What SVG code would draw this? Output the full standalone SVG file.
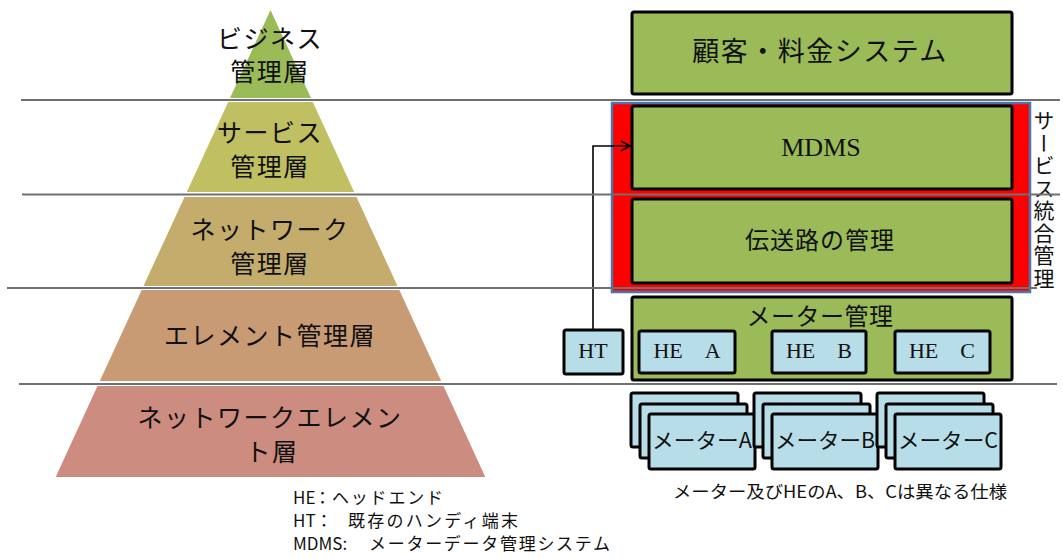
<svg xmlns="http://www.w3.org/2000/svg" width="1063" height="559" viewBox="0 0 1063 559">
<style>
.jp{font-family:"Noto Sans CJK JP","Noto Sans CJK SC",sans-serif;fill:#111}
.py{font-size:25px;text-anchor:middle;letter-spacing:1.5px}
.sf{font-family:"Liberation Serif","Noto Sans CJK JP",serif;fill:#111;text-anchor:middle}
.gbox{fill:#9bbb59;stroke:#000;stroke-width:3}
.bbox{fill:#b7dee8;stroke:#000;stroke-width:3}
.sep{stroke:#707070;stroke-width:2;fill:none}
.leg{font-size:17px}
.mt{font-size:21px;text-anchor:middle}
</style>
<defs>
<marker id="arr" markerWidth="12" markerHeight="12" refX="10" refY="6" orient="auto" markerUnits="userSpaceOnUse">
<path d="M1,1 L10,6 L1,11" fill="none" stroke="#000" stroke-width="1.6"/>
</marker>
</defs>
<rect width="1063" height="559" fill="#fff"/>

<g id="pyramid">
<g id="layer-business"><polygon points="270.5,10 311,98 230,98" fill="#9bbb59"/>
<text class="jp py" x="270" y="48">ビジネス</text><text class="jp py" x="270" y="81">管理層</text></g>
<g id="layer-service"><polygon points="228.2,102 312.8,102 354.2,192 186.8,192" fill="#c0c062"/>
<text class="jp py" x="270" y="142">サービス</text><text class="jp py" x="270" y="176">管理層</text></g>
<g id="layer-network"><polygon points="184.5,197 356.5,197 397.5,286 143.5,286" fill="#c4ad6c"/>
<text class="jp py" x="270" y="239">ネットワーク</text><text class="jp py" x="270" y="273">管理層</text></g>
<g id="layer-element"><polygon points="141.7,290 399.3,290 441.2,381 99.8,381" fill="#c99b75"/>
<text class="jp py" x="270" y="345">エレメント管理層</text></g>
<g id="layer-ne"><polygon points="97.5,386 443.5,386 485.3,477 55.7,477" fill="#cc8c80"/>
<text class="jp py" x="270" y="427">ネットワークエレメン</text><text class="jp py" x="272" y="461">ト層</text></g>
</g>

<g id="service-integration">
<rect x="612" y="103" width="418" height="189" fill="#ff0000" stroke="#4a76b0" stroke-width="2.5"/>
<text class="jp" x="1044" y="110" font-size="21" style="writing-mode:vertical-rl" letter-spacing="1.5">サービス統合管理</text>
</g>

<g id="customer-billing">
<rect class="gbox" x="632" y="12" width="380" height="82" rx="2"/>
<text class="jp" x="820" y="61" font-size="27" text-anchor="middle" letter-spacing="1.5">顧客・料金システム</text>
</g>
<g id="mdms">
<rect class="gbox" x="632" y="106" width="380" height="83" rx="2"/>
<text class="sf" x="821" y="156" font-size="26">MDMS</text>
</g>
<g id="transmission">
<rect class="gbox" x="632" y="199" width="380" height="84" rx="2"/>
<text class="jp" x="820" y="249" font-size="24" text-anchor="middle" letter-spacing="1">伝送路の管理</text>
</g>
<g id="meter-mgmt">
<rect class="gbox" x="632" y="297" width="380" height="83" rx="2"/>
<text class="jp" x="820" y="325" font-size="24" text-anchor="middle" letter-spacing="0.5">メーター管理</text>
</g>
<g id="he-a"><rect class="bbox" x="639" y="331" width="96" height="42" rx="2"/><text class="sf" x="687" y="358" font-size="22">HE　A</text></g>
<g id="he-b"><rect class="bbox" x="772" y="331" width="94" height="42" rx="2"/><text class="sf" x="819" y="358" font-size="22">HE　B</text></g>
<g id="he-c"><rect class="bbox" x="895" y="331" width="95" height="42" rx="2"/><text class="sf" x="942" y="358" font-size="22">HE　C</text></g>
<g id="ht"><rect class="bbox" x="564" y="330" width="59" height="44" rx="2"/><text class="sf" x="593" y="358" font-size="22">HT</text></g>

<g id="meters-a">
<rect class="bbox" x="631" y="393" width="107" height="54" rx="2"/>
<rect class="bbox" x="640" y="404" width="107" height="54" rx="2"/>
<rect class="bbox" x="649" y="414" width="106" height="55" rx="2"/><text class="jp mt" x="702" y="448" textLength="100" lengthAdjust="spacingAndGlyphs">メーターA</text>
</g>
<g id="meters-b">
<rect class="bbox" x="754" y="393" width="107" height="54" rx="2"/>
<rect class="bbox" x="763" y="404" width="107" height="54" rx="2"/>
<rect class="bbox" x="772" y="414" width="106" height="55" rx="2"/><text class="jp mt" x="825" y="448" textLength="100" lengthAdjust="spacingAndGlyphs">メーターB</text>
</g>
<g id="meters-c">
<rect class="bbox" x="877" y="393" width="107" height="54" rx="2"/>
<rect class="bbox" x="886" y="404" width="107" height="54" rx="2"/>
<rect class="bbox" x="895" y="414" width="106" height="55" rx="2"/><text class="jp mt" x="948" y="448" textLength="100" lengthAdjust="spacingAndGlyphs">メーターC</text>
</g>

<g id="connectors">
<polyline points="593,330 593,146 630,146" fill="none" stroke="#000" stroke-width="1.6" marker-end="url(#arr)"/>
</g>

<g id="separators">
<line class="sep" x1="21" y1="100" x2="1060" y2="100"/>
<line class="sep" x1="22" y1="194.5" x2="1060" y2="194.5"/>
<line class="sep" x1="7" y1="288" x2="1037" y2="288"/>
<line class="sep" x1="19" y1="384" x2="1057" y2="384"/>
</g>

<g id="notes">
<text class="jp" x="840" y="498" font-size="17" text-anchor="middle" textLength="334" lengthAdjust="spacingAndGlyphs">メーター及びHEのA、B、Cは異なる仕様</text>
<text class="jp leg" x="293" y="504">HE</text><text class="jp leg" x="314" y="504">：</text><text class="jp leg" x="332" y="504" textLength="111" lengthAdjust="spacing">ヘッドエンド</text>
<text class="jp leg" x="293" y="527">HT：</text><text class="jp leg" x="348" y="527" textLength="170" lengthAdjust="spacing">既存のハンディ端末</text>
<text class="jp leg" x="293" y="550">MDMS:</text><text class="jp leg" x="369" y="550" textLength="241" lengthAdjust="spacing">メーターデータ管理システム</text>
</g>
</svg>
